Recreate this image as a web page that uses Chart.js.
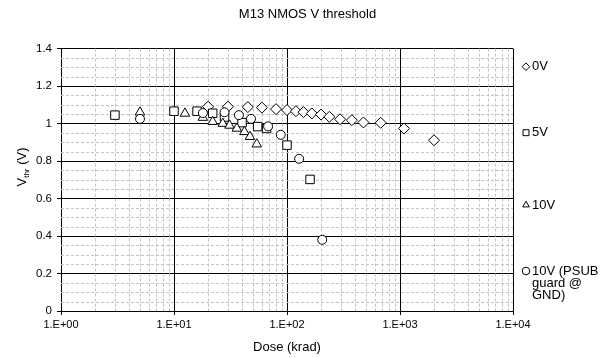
<!DOCTYPE html>
<html>
<head>
<meta charset="utf-8">
<script src="https://cdn.jsdelivr.net/npm/chart.js@4.4.0/dist/chart.umd.min.js"></script>
<style>
  html, body { margin: 0; padding: 0; background: #fff; }
</style>
</head>
<body>
<canvas id="vthChart" width="615" height="358"></canvas>
<script>
// --- data ---
const chartTitle = 'M13 NMOS V threshold';
const xAxisTitle = 'Dose (krad)';
const yAxisTitle = ['V', 'thr', ' (V)'];
const xTickValues = [1, 10, 100, 1000, 10000];
const xTickLabels = ['1.E+00', '1.E+01', '1.E+02', '1.E+03', '1.E+04'];
const yTickLabels = ['0', '0.2', '0.4', '0.6', '0.8', '1', '1.2', '1.4'];

const seriesLabels = ['0V', '5V', '10V', ['10V (PSUB', 'guard @', 'GND)']];

const dose0V = [20, 30, 45, 60, 80, 100, 120, 140, 166, 200, 237, 295, 375, 475, 675, 1085, 2000];
const vth0V = [1.09, 1.09, 1.088, 1.085, 1.077, 1.072, 1.066, 1.061, 1.054, 1.048, 1.036, 1.023, 1.018, 1.006, 1.004, 0.974, 0.911];

const dose5V = [3, 10, 16, 22, 28, 40, 55, 66, 100, 160];
const vth5V = [1.045, 1.066, 1.066, 1.055, 1.035, 1.005, 0.984, 0.974, 0.885, 0.702];

const dose10V = [5, 12.5, 18, 22, 27, 31, 36, 42, 47, 54];
const vth10V = [1.06, 1.054, 1.032, 1.01, 1.0, 0.99, 0.974, 0.956, 0.93, 0.89];

const dosePsub = [5, 18, 28, 37.5, 48, 68, 88, 128, 205];
const vthPsub = [1.025, 1.056, 1.06, 1.045, 1.025, 0.985, 0.94, 0.812, 0.38];

const pointStyles = ['rectRot', 'rect', 'triangle', 'circle'];
const pointSizes = [5.5, 6, 5.5, 4.5];

Chart.defaults.font.family = '"Liberation Sans", Arial, sans-serif';
Chart.defaults.color = '#000';

function toPoints(xs, ys) {
    return xs.map((x, i) => ({ x: x, y: ys[i] }));
}

const seriesData = [
    toPoints(dose0V, vth0V),
    toPoints(dose5V, vth5V),
    toPoints(dose10V, vth10V),
    toPoints(dosePsub, vthPsub)
];

// dashed minor grid lines, drawn under the markers
const minorGrid = {
    id: 'minorGrid',
    beforeDatasetsDraw(chart) {
        const { ctx, chartArea: a, scales: { x, y } } = chart;
        ctx.save();
        ctx.strokeStyle = '#c4c4c4';
        ctx.lineWidth = 1;
        ctx.setLineDash([3, 2]);
        ctx.beginPath();
        for (let d = 1; d < 10000; d *= 10) {
            for (let k = 2; k <= 9; k++) {
                const px = Math.round(x.getPixelForValue(d * k)) + 0.5;
                ctx.moveTo(px, a.top);
                ctx.lineTo(px, a.bottom);
            }
        }
        for (let i = 1; i < 28; i++) {
            if (i % 4 === 0) continue;
            const py = Math.round(y.getPixelForValue(i * 0.05)) + 0.5;
            ctx.moveTo(a.left, py);
            ctx.lineTo(a.right, py);
        }
        ctx.stroke();
        ctx.restore();
    }
};

// y axis title with subscript, and the spaced legend on the right
const extraText = {
    id: 'extraText',
    afterDraw(chart) {
        const ctx = chart.ctx;
        const fam = Chart.defaults.font.family;
        ctx.save();
        ctx.fillStyle = '#000';
        ctx.textBaseline = 'alphabetic';

        // y title
        const big = '13px ' + fam, small = '8px ' + fam;
        ctx.font = big;
        const w1 = ctx.measureText(yAxisTitle[0]).width;
        const w3 = ctx.measureText(yAxisTitle[2]).width;
        ctx.font = small;
        const w2 = ctx.measureText(yAxisTitle[1]).width;
        const total = w1 + w2 + w3;
        ctx.translate(26, 167);
        ctx.rotate(-Math.PI / 2);
        let sx = -total / 2;
        ctx.font = big;
        ctx.fillText(yAxisTitle[0], sx, 0);
        sx += w1;
        ctx.font = small;
        ctx.fillText(yAxisTitle[1], sx, 3);
        sx += w2;
        ctx.font = big;
        ctx.fillText(yAxisTitle[2], sx, 0);
        ctx.setTransform(1, 0, 0, 1, 0, 0);

        // legend
        const rows = [66.7, 132.7, 205, 271];
        ctx.font = '13px ' + fam;
        ctx.textBaseline = 'middle';
        ctx.textAlign = 'left';
        seriesLabels.forEach((lab, i) => {
            ctx.fillStyle = '#fff';
            ctx.strokeStyle = '#000';
            ctx.lineWidth = 1;
            Chart.helpers.drawPoint(ctx, { pointStyle: pointStyles[i], radius: i === 1 ? 4.2 : 3.8, borderWidth: 1, rotation: 0 }, 526, rows[i]);
            ctx.fillStyle = '#000';
            const lines = Array.isArray(lab) ? lab : [lab];
            lines.forEach((t, j) => ctx.fillText(t, 532, rows[i] + j * 12));
        });
        ctx.restore();
    }
};

new Chart(document.getElementById('vthChart'), {
    type: 'scatter',
    data: {
        datasets: seriesData.map((pts, i) => ({
            label: Array.isArray(seriesLabels[i]) ? seriesLabels[i].join(' ') : seriesLabels[i],
            data: pts,
            pointStyle: pointStyles[i],
            pointRadius: pointSizes[i],
            pointHoverRadius: pointSizes[i],
            borderColor: '#000',
            backgroundColor: '#fff',
            borderWidth: 1,
            showLine: false,
            order: 3 - i
        }))
    },
    options: {
        responsive: false,
        animation: false,
        layout: { padding: { left: 0, right: 0, top: 0, bottom: 0 } },
        plugins: {
            legend: { display: false },
            tooltip: { enabled: false },
            title: {
                display: true,
                text: chartTitle,
                font: { size: 13, weight: 'normal' },
                color: '#000',
                padding: { top: 7, bottom: 26 }
            }
        },
        scales: {
            x: {
                type: 'logarithmic',
                position: 'bottom',
                min: 1,
                max: 10000,
                afterBuildTicks: s => { s.ticks = xTickValues.map(v => ({ value: v })); },
                afterFit: s => { s.height = 47; },
                ticks: {
                    autoSkip: false,
                    maxRotation: 0,
                    font: { size: 11 },
                    padding: 3,
                    callback: (v, i) => xTickLabels[i]
                },
                grid: { color: '#000', lineWidth: 1, tickLength: 4 },
                border: { color: '#000' },
                title: {
                    display: true,
                    text: xAxisTitle,
                    font: { size: 13 },
                    padding: { top: 2, bottom: 3 }
                }
            },
            y: {
                type: 'linear',
                position: 'left',
                min: 0,
                max: 1.4,
                afterFit: s => { s.width = 61; },
                ticks: {
                    stepSize: 0.2,
                    font: { size: 11.5 },
                    padding: 5,
                    callback: (v, i) => yTickLabels[i]
                },
                grid: { color: '#000', lineWidth: 1, tickLength: 4 },
                border: { color: '#000' }
            },
            yRight: {
                type: 'linear',
                position: 'right',
                display: true,
                afterFit: s => { s.width = 102; },
                grid: { display: false, drawTicks: false },
                border: { display: false },
                ticks: { display: false }
            }
        }
    },
    plugins: [minorGrid, extraText]
});
</script>
</body>
</html>
